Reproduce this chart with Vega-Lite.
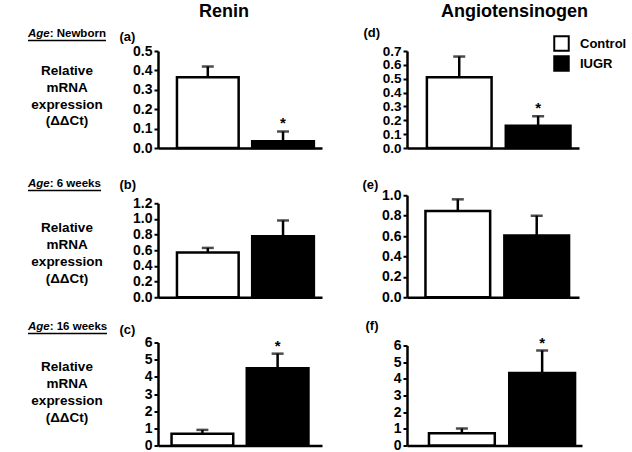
{
  "$schema": "https://vega.github.io/schema/vega-lite/v6.json",
  "padding": {"top": 2, "left": 5, "right": 0, "bottom": 0},
  "config": {
    "view": {"stroke": null},
    "font": "Liberation Sans",
    "axis": {"domainColor": "black", "domainWidth": 2.5, "tickColor": "black", "tickWidth": 2, "tickSize": 4, "labelFont": "Liberation Sans", "labelFontSize": 14, "labelFontWeight": "bold", "labelColor": "black", "labelPadding": 2, "labelOverlap": false, "labelBound": false, "labelFlush": false, "titleFont": "Liberation Sans", "titleFontSize": 13, "titleFontWeight": "bold", "titleColor": "black", "grid": false},
    "title": {"font": "Liberation Sans", "fontSize": 18, "fontWeight": "bold", "color": "black"},
    "text": {"font": "Liberation Sans", "color": "black"}
  },
  "datasets": {
    "bars": [
      {"panel": "a", "group": "Control", "value": 0.365, "upper": 0.42, "sig": ""},
      {"panel": "a", "group": "IUGR", "value": 0.035, "upper": 0.085, "sig": "*"},
      {"panel": "d", "group": "Control", "value": 0.51, "upper": 0.66, "sig": ""},
      {"panel": "d", "group": "IUGR", "value": 0.16, "upper": 0.23, "sig": "*"},
      {"panel": "b", "group": "Control", "value": 0.57, "upper": 0.63, "sig": ""},
      {"panel": "b", "group": "IUGR", "value": 0.78, "upper": 0.98, "sig": ""},
      {"panel": "e", "group": "Control", "value": 0.845, "upper": 0.96, "sig": ""},
      {"panel": "e", "group": "IUGR", "value": 0.605, "upper": 0.8, "sig": ""},
      {"panel": "c", "group": "Control", "value": 0.68, "upper": 0.91, "sig": ""},
      {"panel": "c", "group": "IUGR", "value": 4.5, "upper": 5.35, "sig": "*"},
      {"panel": "f", "group": "Control", "value": 0.74, "upper": 1.02, "sig": ""},
      {"panel": "f", "group": "IUGR", "value": 4.35, "upper": 5.7, "sig": "*"}
    ],
    "labels": [
      {"kind": "ageIt", "x": 44.7, "y": -17, "text": "Age"},
      {"kind": "age", "x": 44.7, "y": -17, "text": ": Newborn"},
      {"kind": "ul", "x": 23, "x2": 101, "y": -10.5},
      {"kind": "line", "x": 62, "y": 20, "text": "Relative"},
      {"kind": "line", "x": 62, "y": 37, "text": "mRNA"},
      {"kind": "line", "x": 62, "y": 53.5, "text": "expression"},
      {"kind": "line", "x": 62, "y": 70, "text": "(ΔΔCt)"},
      {"kind": "ageIt", "x": 44.7, "y": 133, "text": "Age"},
      {"kind": "age", "x": 44.7, "y": 133, "text": ": 6 weeks"},
      {"kind": "ul", "x": 23, "x2": 96, "y": 139.5},
      {"kind": "line", "x": 62, "y": 177, "text": "Relative"},
      {"kind": "line", "x": 62, "y": 194, "text": "mRNA"},
      {"kind": "line", "x": 62, "y": 211, "text": "expression"},
      {"kind": "line", "x": 62, "y": 228, "text": "(ΔΔCt)"},
      {"kind": "ageIt", "x": 44.7, "y": 276, "text": "Age"},
      {"kind": "age", "x": 44.7, "y": 276, "text": ": 16 weeks"},
      {"kind": "ul", "x": 23, "x2": 102, "y": 282.5},
      {"kind": "line", "x": 62, "y": 316, "text": "Relative"},
      {"kind": "line", "x": 62, "y": 333, "text": "mRNA"},
      {"kind": "line", "x": 62, "y": 350, "text": "expression"},
      {"kind": "line", "x": 62, "y": 367, "text": "(ΔΔCt)"}
    ]
  },
  "spacing": 10,
  "resolve": {"scale": {"fill": "independent"}, "legend": {"fill": "independent"}},
  "hconcat": [
    {
      "width": 104, "height": 395,
      "data": {"name": "labels"},
      "encoding": {
        "x": {"field": "x", "type": "quantitative", "scale": {"domain": [0, 104]}, "axis": null},
        "y": {"field": "y", "type": "quantitative", "scale": {"domain": [0, 395], "reverse": true, "zero": false}, "axis": null}
      },
      "layer": [
        {"transform": [{"filter": "datum.kind === 'ageIt'"}], "mark": {"type": "text", "align": "right", "baseline": "middle", "font": "Liberation Sans", "fontSize": 11.5, "fontWeight": "bold", "fontStyle": "italic"}, "encoding": {"text": {"field": "text"}}},
        {"transform": [{"filter": "datum.kind === 'age'"}], "mark": {"type": "text", "align": "left", "baseline": "middle", "font": "Liberation Sans", "fontSize": 11.5, "fontWeight": "bold"}, "encoding": {"text": {"field": "text"}}},
        {"transform": [{"filter": "datum.kind === 'ul'"}], "mark": {"type": "rule", "color": "black", "strokeWidth": 1.3}, "encoding": {"x2": {"field": "x2"}}},
        {"transform": [{"filter": "datum.kind === 'line'"}], "mark": {"type": "text", "align": "center", "baseline": "middle", "fontSize": 13.5, "fontWeight": "bold"}, "encoding": {"text": {"field": "text"}}}
      ]
    },
    {
      "spacing": 40,
      "resolve": {"scale": {"fill": "independent"}, "legend": {"fill": "independent"}},
      "hconcat": [
        {
          "spacing": 19.25,
          "resolve": {"scale": {"fill": "independent"}, "legend": {"fill": "independent"}},
          "vconcat": [
            {
              "width": 164, "height": 97,
              "title": {"text": "Renin", "anchor": "middle", "frame": "bounds", "offset": 9.5, "dx": 3.5},
              "data": {"name": "bars"},
              "transform": [{"filter": "datum.panel === 'a'"}],
              "encoding": {
                "x": {"field": "group", "type": "nominal", "sort": ["Control", "IUGR"], "scale": {"paddingInner": 0.18, "paddingOuter": 0.18, "align": 0.7}, "axis": {"title": " ", "titleFontSize": 11, "titlePadding": 0, "labels": false, "ticks": false}},
                "y": {"field": "value", "type": "quantitative", "scale": {"domain": [0, 0.5], "nice": false}, "axis": {"title": "(a)", "titleAngle": 0, "titleX": -39, "titleY": -15, "titleAlign": "left", "titleBaseline": "middle", "values": [0, 0.1, 0.2, 0.3, 0.4, 0.5], "format": ".1f", "labelOverlap": false}}
              },
              "layer": [
                {"mark": {"type": "bar", "stroke": "black", "strokeWidth": 2.5}, "encoding": {"fill": {"field": "group", "type": "nominal", "scale": {"domain": ["Control", "IUGR"], "range": ["white", "black"]}, "legend": null}}},
                {"mark": {"type": "rule", "color": "black", "strokeWidth": 2.5}, "encoding": {"y2": {"field": "upper"}}},
                {"mark": {"type": "tick", "color": "black", "thickness": 2.5, "size": 12}, "encoding": {"y": {"field": "upper", "type": "quantitative", "scale": {"domain": [0, 0.5], "nice": false}, "axis": {"title": "(a)", "titleAngle": 0, "titleX": -39, "titleY": -15, "titleAlign": "left", "titleBaseline": "middle", "values": [0, 0.1, 0.2, 0.3, 0.4, 0.5], "format": ".1f", "labelOverlap": false}}}},
                {"mark": {"type": "text", "fontSize": 15, "fontWeight": "bold", "baseline": "alphabetic", "dy": -4}, "encoding": {"y": {"field": "upper", "type": "quantitative", "scale": {"domain": [0, 0.5], "nice": false}, "axis": {"title": "(a)", "titleAngle": 0, "titleX": -39, "titleY": -15, "titleAlign": "left", "titleBaseline": "middle", "values": [0, 0.1, 0.2, 0.3, 0.4, 0.5], "format": ".1f", "labelOverlap": false}}, "text": {"field": "sig"}}}
              ]
            },
            {
              "width": 164, "height": 94,
              "data": {"name": "bars"},
              "transform": [{"filter": "datum.panel === 'b'"}],
              "encoding": {
                "x": {"field": "group", "type": "nominal", "sort": ["Control", "IUGR"], "scale": {"paddingInner": 0.18, "paddingOuter": 0.18, "align": 0.7}, "axis": {"title": null, "labels": false, "ticks": false}},
                "y": {"field": "value", "type": "quantitative", "scale": {"domain": [0, 1.2], "nice": false}, "axis": {"title": "(b)", "titleAngle": 0, "titleX": -39, "titleY": -19, "titleAlign": "left", "titleBaseline": "middle", "values": [0, 0.2, 0.4, 0.6, 0.8, 1.0, 1.2], "format": ".1f", "labelOverlap": false}}
              },
              "layer": [
                {"mark": {"type": "bar", "stroke": "black", "strokeWidth": 2.5}, "encoding": {"fill": {"field": "group", "type": "nominal", "scale": {"domain": ["Control", "IUGR"], "range": ["white", "black"]}, "legend": null}}},
                {"mark": {"type": "rule", "color": "black", "strokeWidth": 2.5}, "encoding": {"y2": {"field": "upper"}}},
                {"mark": {"type": "tick", "color": "black", "thickness": 2.5, "size": 12}, "encoding": {"y": {"field": "upper", "type": "quantitative", "scale": {"domain": [0, 1.2], "nice": false}, "axis": {"title": "(b)", "titleAngle": 0, "titleX": -39, "titleY": -19, "titleAlign": "left", "titleBaseline": "middle", "values": [0, 0.2, 0.4, 0.6, 0.8, 1.0, 1.2], "format": ".1f", "labelOverlap": false}}}}
              ]
            },
            {
              "width": 164, "height": 103,
              "data": {"name": "bars"},
              "transform": [{"filter": "datum.panel === 'c'"}],
              "encoding": {
                "x": {"field": "group", "type": "nominal", "sort": ["Control", "IUGR"], "scale": {"paddingInner": 0.18, "paddingOuter": 0.18, "align": 0.5}, "axis": {"title": null, "labels": false, "ticks": false}},
                "y": {"field": "value", "type": "quantitative", "scale": {"domain": [0, 6], "nice": false}, "axis": {"title": "(c)", "titleAngle": 0, "titleX": -39, "titleY": -13, "titleAlign": "left", "titleBaseline": "middle", "values": [0, 1, 2, 3, 4, 5, 6], "format": "d", "labelOverlap": false}}
              },
              "layer": [
                {"mark": {"type": "bar", "stroke": "black", "strokeWidth": 2.5}, "encoding": {"fill": {"field": "group", "type": "nominal", "scale": {"domain": ["Control", "IUGR"], "range": ["white", "black"]}, "legend": null}}},
                {"mark": {"type": "rule", "color": "black", "strokeWidth": 2.5}, "encoding": {"y2": {"field": "upper"}}},
                {"mark": {"type": "tick", "color": "black", "thickness": 2.5, "size": 12}, "encoding": {"y": {"field": "upper", "type": "quantitative", "scale": {"domain": [0, 6], "nice": false}, "axis": {"title": "(c)", "titleAngle": 0, "titleX": -39, "titleY": -13, "titleAlign": "left", "titleBaseline": "middle", "values": [0, 1, 2, 3, 4, 5, 6], "format": "d", "labelOverlap": false}}}},
                {"mark": {"type": "text", "fontSize": 15, "fontWeight": "bold", "baseline": "alphabetic", "dy": -3}, "encoding": {"y": {"field": "upper", "type": "quantitative", "scale": {"domain": [0, 6], "nice": false}, "axis": {"title": "(c)", "titleAngle": 0, "titleX": -39, "titleY": -13, "titleAlign": "left", "titleBaseline": "middle", "values": [0, 1, 2, 3, 4, 5, 6], "format": "d", "labelOverlap": false}}, "text": {"field": "sig"}}}
              ]
            }
          ]
        },
        {
          "spacing": 15.25,
          "resolve": {"scale": {"fill": "independent"}, "legend": {"fill": "independent"}},
          "vconcat": [
            {
              "width": 172, "height": 97,
              "title": {"text": "Angiotensinogen", "anchor": "middle", "frame": "bounds", "offset": 5.5, "dx": 19.5},
              "data": {"name": "bars"},
              "transform": [{"filter": "datum.panel === 'd'"}],
              "encoding": {
                "x": {"field": "group", "type": "nominal", "sort": ["Control", "IUGR"], "scale": {"paddingInner": 0.18, "paddingOuter": 0.18, "align": 0.7}, "axis": {"title": " ", "titleFontSize": 15, "titlePadding": 0, "labels": false, "ticks": false}},
                "y": {"field": "value", "type": "quantitative", "scale": {"domain": [0, 0.7], "nice": false}, "axis": {"title": "(d)", "titleAngle": 0, "titleX": -44, "titleY": -19, "titleAlign": "left", "titleBaseline": "middle", "values": [0, 0.1, 0.2, 0.3, 0.4, 0.5, 0.6, 0.7], "format": ".1f", "labelOverlap": false, "labelFontSize": 13.5}}
              },
              "layer": [
                {"mark": {"type": "bar", "stroke": "black", "strokeWidth": 2.5}, "encoding": {"fill": {"field": "group", "type": "nominal", "scale": {"domain": ["Control", "IUGR"], "range": ["white", "black"]}, "legend": {"orient": "none", "legendX": 146, "legendY": -16, "title": null, "symbolType": "square", "symbolSize": 210, "symbolStrokeColor": "black", "symbolStrokeWidth": 2, "labelFont": "Liberation Sans", "labelFontSize": 13, "labelFontWeight": "bold", "labelColor": "black", "labelOffset": 10, "rowPadding": -3}}}},
                {"mark": {"type": "rule", "color": "black", "strokeWidth": 2.5}, "encoding": {"y2": {"field": "upper"}}},
                {"mark": {"type": "tick", "color": "black", "thickness": 2.5, "size": 12}, "encoding": {"y": {"field": "upper", "type": "quantitative", "scale": {"domain": [0, 0.7], "nice": false}, "axis": {"title": "(d)", "titleAngle": 0, "titleX": -44, "titleY": -19, "titleAlign": "left", "titleBaseline": "middle", "values": [0, 0.1, 0.2, 0.3, 0.4, 0.5, 0.6, 0.7], "format": ".1f", "labelOverlap": false, "labelFontSize": 13.5}}}},
                {"mark": {"type": "text", "fontSize": 15, "fontWeight": "bold", "baseline": "alphabetic", "dy": -3}, "encoding": {"y": {"field": "upper", "type": "quantitative", "scale": {"domain": [0, 0.7], "nice": false}, "axis": {"title": "(d)", "titleAngle": 0, "titleX": -44, "titleY": -19, "titleAlign": "left", "titleBaseline": "middle", "values": [0, 0.1, 0.2, 0.3, 0.4, 0.5, 0.6, 0.7], "format": ".1f", "labelOverlap": false, "labelFontSize": 13.5}}, "text": {"field": "sig"}}}
              ]
            },
            {
              "width": 172, "height": 102,
              "data": {"name": "bars"},
              "transform": [{"filter": "datum.panel === 'e'"}],
              "encoding": {
                "x": {"field": "group", "type": "nominal", "sort": ["Control", "IUGR"], "scale": {"paddingInner": 0.18, "paddingOuter": 0.18, "align": 0.65}, "axis": {"title": null, "labels": false, "ticks": false}},
                "y": {"field": "value", "type": "quantitative", "scale": {"domain": [0, 1.0], "nice": false}, "axis": {"title": "(e)", "titleAngle": 0, "titleX": -45, "titleY": -11, "titleAlign": "left", "titleBaseline": "middle", "values": [0, 0.2, 0.4, 0.6, 0.8, 1.0], "format": ".1f", "labelOverlap": false}}
              },
              "layer": [
                {"mark": {"type": "bar", "stroke": "black", "strokeWidth": 2.5}, "encoding": {"fill": {"field": "group", "type": "nominal", "scale": {"domain": ["Control", "IUGR"], "range": ["white", "black"]}, "legend": null}}},
                {"mark": {"type": "rule", "color": "black", "strokeWidth": 2.5}, "encoding": {"y2": {"field": "upper"}}},
                {"mark": {"type": "tick", "color": "black", "thickness": 2.5, "size": 12}, "encoding": {"y": {"field": "upper", "type": "quantitative", "scale": {"domain": [0, 1.0], "nice": false}, "axis": {"title": "(e)", "titleAngle": 0, "titleX": -45, "titleY": -11, "titleAlign": "left", "titleBaseline": "middle", "values": [0, 0.2, 0.4, 0.6, 0.8, 1.0], "format": ".1f", "labelOverlap": false}}}}
              ]
            },
            {
              "width": 175, "height": 100,
              "data": {"name": "bars"},
              "transform": [{"filter": "datum.panel === 'f'"}],
              "encoding": {
                "x": {"field": "group", "type": "nominal", "sort": ["Control", "IUGR"], "scale": {"paddingInner": 0.18, "paddingOuter": 0.18, "align": 0.76}, "axis": {"title": null, "labels": false, "ticks": false}},
                "y": {"field": "value", "type": "quantitative", "scale": {"domain": [0, 6], "nice": false}, "axis": {"title": "(f)", "titleAngle": 0, "titleX": -42, "titleY": -20, "titleAlign": "left", "titleBaseline": "middle", "values": [0, 1, 2, 3, 4, 5, 6], "format": "d", "labelOverlap": false}}
              },
              "layer": [
                {"mark": {"type": "bar", "stroke": "black", "strokeWidth": 2.5}, "encoding": {"fill": {"field": "group", "type": "nominal", "scale": {"domain": ["Control", "IUGR"], "range": ["white", "black"]}, "legend": null}}},
                {"mark": {"type": "rule", "color": "black", "strokeWidth": 2.5}, "encoding": {"y2": {"field": "upper"}}},
                {"mark": {"type": "tick", "color": "black", "thickness": 2.5, "size": 12}, "encoding": {"y": {"field": "upper", "type": "quantitative", "scale": {"domain": [0, 6], "nice": false}, "axis": {"title": "(f)", "titleAngle": 0, "titleX": -42, "titleY": -20, "titleAlign": "left", "titleBaseline": "middle", "values": [0, 1, 2, 3, 4, 5, 6], "format": "d", "labelOverlap": false}}}},
                {"mark": {"type": "text", "fontSize": 15, "fontWeight": "bold", "baseline": "alphabetic", "dy": -3}, "encoding": {"y": {"field": "upper", "type": "quantitative", "scale": {"domain": [0, 6], "nice": false}, "axis": {"title": "(f)", "titleAngle": 0, "titleX": -42, "titleY": -20, "titleAlign": "left", "titleBaseline": "middle", "values": [0, 1, 2, 3, 4, 5, 6], "format": "d", "labelOverlap": false}}, "text": {"field": "sig"}}}
              ]
            }
          ]
        }
      ]
    }
  ]
}
